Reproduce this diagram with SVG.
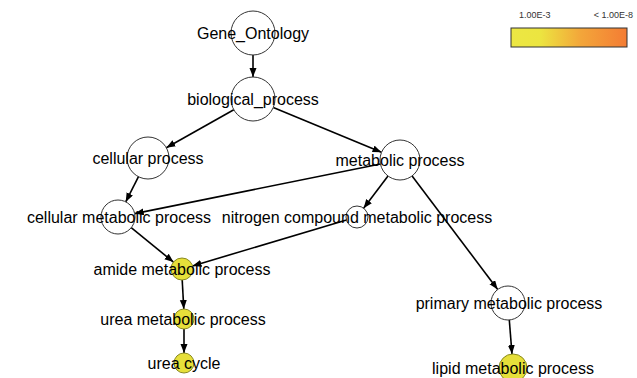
<svg xmlns="http://www.w3.org/2000/svg" width="637" height="378" viewBox="0 0 637 378">
<style>
.n{fill:#fff;stroke:#333;stroke-width:1}
.y{fill:#e6df3a;stroke:#8a8a20;stroke-width:1}
.t{font-family:"Liberation Sans",Arial,sans-serif;font-size:16px;fill:#000;text-anchor:middle}
.e{stroke:#000;stroke-width:1.6;fill:none;marker-end:url(#a)}
.l{font-family:"Liberation Sans",Arial,sans-serif;font-size:9px;fill:#333}
</style>
<defs>
<marker id="a" markerUnits="userSpaceOnUse" markerWidth="10" markerHeight="8" refX="9" refY="3.5" orient="auto">
<path d="M0,0 L9,3.5 L0,7 Z" fill="#000"/>
</marker>
<linearGradient id="g" x1="0" x2="1" y1="0" y2="0">
<stop offset="0" stop-color="#ece743"/>
<stop offset="0.25" stop-color="#ece540"/>
<stop offset="0.6" stop-color="#f3a63a"/>
<stop offset="1" stop-color="#f47c34"/>
</linearGradient>
</defs>
<g id="legend">
<rect x="511" y="28" width="116" height="19" fill="url(#g)" stroke="#333" stroke-width="1"/>
<text class="l" x="519" y="18">1.00E-3</text>
<text class="l" x="633" y="18" text-anchor="end">&lt; 1.00E-8</text>
</g>
<g id="connectors">
<line class="e" x1="253" y1="55" x2="253" y2="77"/>
<line class="e" x1="233.8" y1="109.8" x2="166.3" y2="147.7"/>
<line class="e" x1="273.3" y1="107.4" x2="381.5" y2="152.3"/>
<line class="e" x1="138.5" y1="176.7" x2="125.7" y2="201.9"/>
<line class="e" x1="380.4" y1="164" x2="134.7" y2="213.6"/>
<line class="e" x1="388" y1="176" x2="363.6" y2="208.2"/>
<line class="e" x1="412.1" y1="176" x2="497.7" y2="289.4"/>
<line class="e" x1="131.2" y1="227.7" x2="173.5" y2="262.1"/>
<line class="e" x1="346.5" y1="220.1" x2="192.5" y2="265.9"/>
<line class="e" x1="182.2" y1="280" x2="183.8" y2="309"/>
<line class="e" x1="184" y1="329" x2="184" y2="353"/>
<line class="e" x1="509.3" y1="320" x2="512" y2="354"/>
</g>
<g id="gene_ontology"><circle class="n" cx="253" cy="33" r="22"/><text class="t" x="253" y="39">Gene_Ontology</text></g>
<g id="biological_process"><circle class="n" cx="253" cy="99" r="22"/><text class="t" x="253" y="105">biological_process</text></g>
<g id="cellular_process"><circle class="n" cx="148" cy="158" r="21"/><text class="t" x="148" y="164">cellular process</text></g>
<g id="metabolic_process"><circle class="n" cx="400" cy="160" r="20"/><text class="t" x="400" y="166">metabolic process</text></g>
<g id="cellular_metabolic_process"><circle class="n" cx="118" cy="217" r="17"/><text class="t" x="119" y="223">cellular metabolic process</text></g>
<g id="nitrogen_compound_metabolic_process"><circle class="n" cx="357" cy="217" r="11"/><text class="t" x="357" y="223">nitrogen compound metabolic process</text></g>
<g id="amide_metabolic_process"><circle class="y" cx="182" cy="269" r="11"/><text class="t" x="182" y="275">amide metabolic process</text></g>
<g id="urea_metabolic_process"><circle class="y" cx="184" cy="319" r="10"/><text class="t" x="183" y="325">urea metabolic process</text></g>
<g id="urea_cycle"><circle class="y" cx="184" cy="363" r="10"/><text class="t" x="184" y="369">urea cycle</text></g>
<g id="primary_metabolic_process"><circle class="n" cx="508" cy="303" r="17"/><text class="t" x="509" y="309">primary metabolic process</text></g>
<g id="lipid_metabolic_process"><circle class="y" cx="513" cy="368" r="14"/><text class="t" x="513" y="374">lipid metabolic process</text></g>
</svg>
